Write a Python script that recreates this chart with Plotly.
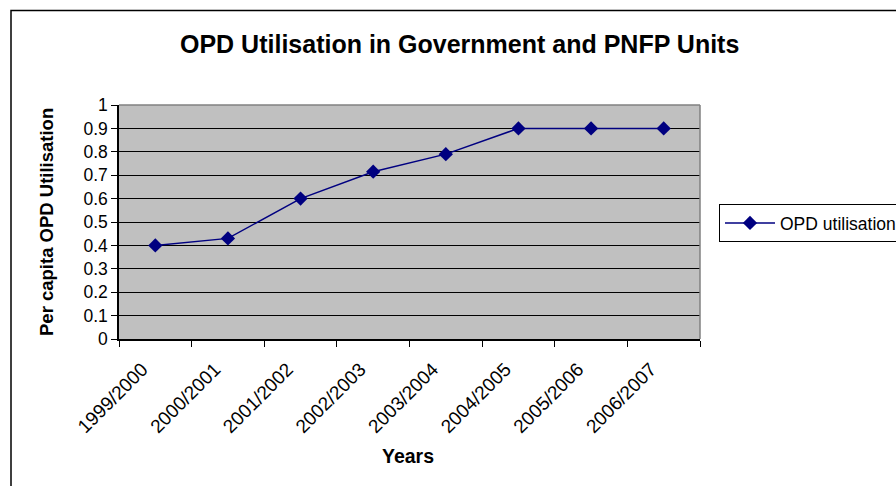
import plotly.graph_objects as go

years = ["1999/2000", "2000/2001", "2001/2002", "2002/2003",
         "2003/2004", "2004/2005", "2005/2006", "2006/2007"]
opd_utilisation = [0.40, 0.43, 0.60, 0.715, 0.79, 0.90, 0.90, 0.90]
y_ticks = [0, 0.1, 0.2, 0.3, 0.4, 0.5, 0.6, 0.7, 0.8, 0.9, 1]
y_tick_labels = ["0", "0.1", "0.2", "0.3", "0.4", "0.5", "0.6", "0.7", "0.8", "0.9", "1"]

FONT = "Arial, Liberation Sans, sans-serif"
W, H = 896, 486
L, R, T, B = 119, 196, 105, 147
pw, ph = W - L - R, H - T - B

def px(x):
    return (x - L) / pw

def py(y):
    return (H - B - y) / ph

fig = go.Figure()
fig.add_trace(go.Scatter(
    x=years, y=opd_utilisation, mode="lines+markers", name="OPD utilisation",
    line=dict(color="#000080", width=1.5),
    marker=dict(symbol="diamond", size=11, color="#000080"),
))

fig.update_layout(
    width=W, height=H,
    margin=dict(l=L, r=R, t=T, b=B, autoexpand=False),
    paper_bgcolor="white", plot_bgcolor="#C0C0C0",
    font=dict(family=FONT, color="black", size=17),
    showlegend=True,
    legend=dict(x=px(719), y=py(204), xanchor="left", yanchor="top",
                bordercolor="black", borderwidth=1, bgcolor="white",
                font=dict(size=17.5, family=FONT), itemwidth=50,
                tracegroupgap=0),
    xaxis=dict(type="category", tickangle=-45, tickson="boundaries",
               ticks="outside", ticklen=6, tickcolor="black",
               showline=True, linecolor="black", linewidth=1.5,
               showgrid=False, tickfont=dict(size=19, family=FONT),
               ticklabelstandoff=10, ticklabelshift=-13, range=[-0.5, 7.5]),
    yaxis=dict(range=[0, 1], tickvals=y_ticks, ticktext=y_tick_labels,
               ticks="outside", ticklen=6, tickcolor="black",
               showline=True, linecolor="black", linewidth=1.5,
               showgrid=True, gridcolor="black", gridwidth=1,
               zeroline=False, tickfont=dict(size=17.5, family=FONT)),
    shapes=[
        dict(type="line", xref="paper", yref="paper", x0=0, x1=1, y0=1, y1=1,
             line=dict(color="#808080", width=1.5)),
        dict(type="line", xref="paper", yref="paper", x0=1, x1=1, y0=0, y1=1,
             line=dict(color="#808080", width=1.5)),
        dict(type="rect", xref="paper", yref="paper",
             x0=px(11), x1=px(910), y0=py(10.5), y1=py(500),
             line=dict(color="black", width=1.5)),
    ],
    annotations=[
        dict(text="<b>OPD Utilisation in Government and PNFP Units</b>",
             xref="paper", yref="paper", x=px(459), y=py(44),
             xanchor="center", yanchor="middle", showarrow=False,
             font=dict(size=25, family=FONT)),
        dict(text="<b>Per capita OPD Utilisation</b>",
             xref="paper", yref="paper", x=px(46), y=py(222),
             xanchor="center", yanchor="middle", showarrow=False, textangle=-90,
             font=dict(size=18.5, family=FONT)),
        dict(text="<b>Years</b>",
             xref="paper", yref="paper", x=px(408), y=py(456),
             xanchor="center", yanchor="middle", showarrow=False,
             font=dict(size=19.5, family=FONT)),
    ],
)

fig.write_html("out.html")
